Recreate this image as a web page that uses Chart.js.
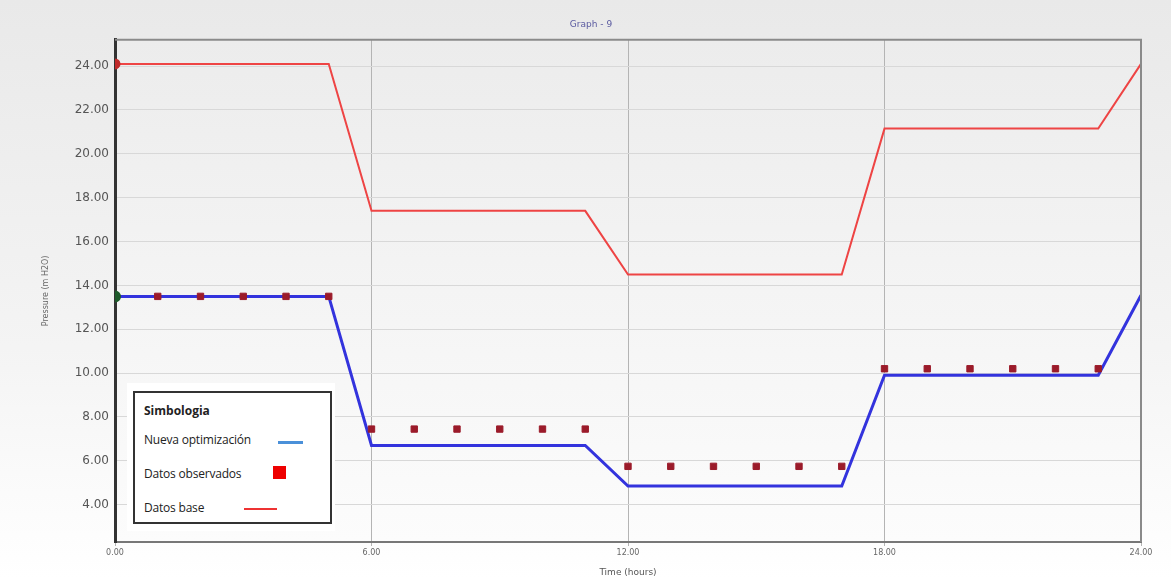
<!DOCTYPE html>
<html>
<head>
<meta charset="utf-8">
<script src="https://cdn.jsdelivr.net/npm/chart.js@4.4.0/dist/chart.umd.min.js"></script>
<style>
    html, body { margin: 0; padding: 0; }
    body { width: 1171px; height: 578px; position: relative; overflow: hidden;
           background: linear-gradient(#e9e9e9, #f4f4f4 60%, #ffffff); font-family: "Open Sans", "DejaVu Sans", sans-serif; }
    #wrap { position: absolute; left: 0; top: 0; width: 1171px; height: 578px; }
    #legendOuter { position: absolute; left: 127px; top: 383px; width: 208px; height: 148px; background: #fff; }
    #legendBox { position: absolute; left: 133px; top: 391px; width: 195px; height: 129px; border: 2px solid #333; background: #fff; color: #222; }
    #legendBox .ttl { position: absolute; left: 9px; top: 9px; font-weight: bold; font-size: 12px; }
    #legendBox .item { position: absolute; left: 9px; font-size: 12px; letter-spacing: -0.2px; }
    #legendBox .sw { position: absolute; }
</style>
</head>
<body>
<div id="wrap"><canvas id="pressureChart" width="1171" height="578"></canvas></div>
<div id="legendOuter"></div>
<div id="legendBox">
    <div class="ttl">Simbologia</div>
    <div class="item" style="top:38px">Nueva optimización</div>
    <div class="sw" style="left:143px;top:48px;width:25px;height:3px;background:#4a90d9"></div>
    <div class="item" style="top:72px">Datos observados</div>
    <div class="sw" style="left:138px;top:73px;width:13px;height:13px;background:#ee0000"></div>
    <div class="item" style="top:106px">Datos base</div>
    <div class="sw" style="left:109px;top:115px;width:33px;height:2px;background:#ee3333"></div>
</div>
<script>
// --- 1. Data ---
const lineHours = [0, 5, 6, 11, 12, 17, 18, 23, 24];
const baseValues = [24.1, 24.1, 17.4, 17.4, 14.5, 14.5, 21.15, 21.15, 24.1];
const optValues = [13.5, 13.5, 6.7, 6.7, 4.85, 4.85, 9.9, 9.9, 13.55];
const obsHours = [1, 2, 3, 4, 5, 6, 7, 8, 9, 10, 11, 12, 13, 14, 15, 16, 17, 18, 19, 20, 21, 22, 23];
const obsValues = [13.5, 13.5, 13.5, 13.5, 13.5,
                   7.45, 7.45, 7.45, 7.45, 7.45, 7.45,
                   5.75, 5.75, 5.75, 5.75, 5.75, 5.75,
                   10.2, 10.2, 10.2, 10.2, 10.2, 10.2];
const xTicks = [0, 6, 12, 18, 24];
const yTicks = [4, 6, 8, 10, 12, 14, 16, 18, 20, 22, 24];

const toXY = (xs, ys) => xs.map((x, i) => ({ x: x, y: ys[i] }));
const firstOnly = (r) => lineHours.map((h, i) => i === 0 ? r : 0);

// --- 2. Plot background / frame plugin ---
const frame = {
    id: 'frame',
    beforeDraw(chart) {
        const { ctx, chartArea: a } = chart;
        const g = ctx.createLinearGradient(0, a.top, 0, a.bottom);
        g.addColorStop(0, '#ececec');
        g.addColorStop(1, '#fcfcfc');
        ctx.save();
        ctx.fillStyle = g;
        ctx.fillRect(a.left, a.top, a.right - a.left, a.bottom - a.top);
        ctx.restore();
    },
    afterDatasetsDraw(chart) {
        const { ctx, chartArea: a } = chart;
        ctx.save();
        ctx.strokeStyle = '#8a8a8a';
        ctx.lineWidth = 2;
        ctx.beginPath();
        ctx.moveTo(a.left, a.top);
        ctx.lineTo(a.right, a.top);
        ctx.lineTo(a.right, a.bottom);
        ctx.stroke();
        ctx.restore();
    }
};

// --- 3. Chart ---
new Chart(document.getElementById('pressureChart').getContext('2d'), {
    type: 'line',
    data: {
        datasets: [
            {
                label: 'Datos observados',
                data: toXY(obsHours, obsValues),
                showLine: false,
                pointStyle: 'rect',
                pointRadius: 4.5,
                backgroundColor: '#9b1b2a',
                borderColor: '#9b1b2a',
                borderWidth: 1,
                order: 0
            },
            {
                label: 'Nueva optimización',
                data: toXY(lineHours, optValues),
                borderColor: '#3333dd',
                borderWidth: 3,
                tension: 0,
                pointRadius: firstOnly(4.5),
                pointBackgroundColor: '#1d5a2a',
                pointBorderColor: '#1d5a2a',
                order: 1
            },
            {
                label: 'Datos base',
                data: toXY(lineHours, baseValues),
                borderColor: '#ee4444',
                borderWidth: 2,
                tension: 0,
                pointRadius: firstOnly(4.5),
                pointBackgroundColor: '#c02a2a',
                pointBorderColor: '#c02a2a',
                order: 2
            }
        ]
    },
    options: {
        responsive: false,
        animation: false,
        layout: { padding: { left: 41, right: 30, top: 0, bottom: 0 } },
        plugins: {
            legend: { display: false },
            tooltip: { enabled: false },
            title: {
                display: true,
                text: 'Graph - 9',
                color: '#5a5aa0',
                font: { size: 9, family: 'DejaVu Sans', weight: 'normal' },
                padding: { top: 19, bottom: 10 }
            }
        },
        scales: {
            x: {
                type: 'linear',
                min: 0,
                max: 24,
                afterBuildTicks: (s) => { s.ticks = xTicks.map(v => ({ value: v })); },
                afterFit: (s) => { s.height = 36; },
                ticks: {
                    color: '#666',
                    font: { size: 8, family: 'DejaVu Sans' },
                    padding: 2,
                    callback: (v) => v.toFixed(2)
                },
                grid: { color: '#b4b4b4', lineWidth: 1, drawTicks: true, tickLength: 4 },
                border: { color: '#777', width: 2 },
                title: {
                    display: true,
                    text: 'Time (hours)',
                    color: '#555',
                    font: { size: 9, family: 'DejaVu Sans' },
                    padding: { top: 0, bottom: 0 }
                }
            },
            y: {
                min: 2.3,
                max: 25.2,
                afterBuildTicks: (s) => { s.ticks = yTicks.map(v => ({ value: v })); },
                afterFit: (s) => { s.width = 74; },
                ticks: {
                    color: '#555',
                    font: { size: 12, family: 'DejaVu Sans' },
                    padding: 6,
                    callback: (v) => v.toFixed(2)
                },
                grid: { color: '#d8d8d8', lineWidth: 1, drawTicks: false },
                border: { color: '#333', width: 3 },
                title: {
                    display: true,
                    text: 'Pressure (m H2O)',
                    color: '#666',
                    font: { size: 8, family: 'DejaVu Sans' },
                    padding: { top: 0, bottom: 6 }
                }
            }
        }
    },
    plugins: [frame]
});
</script>
</body>
</html>
